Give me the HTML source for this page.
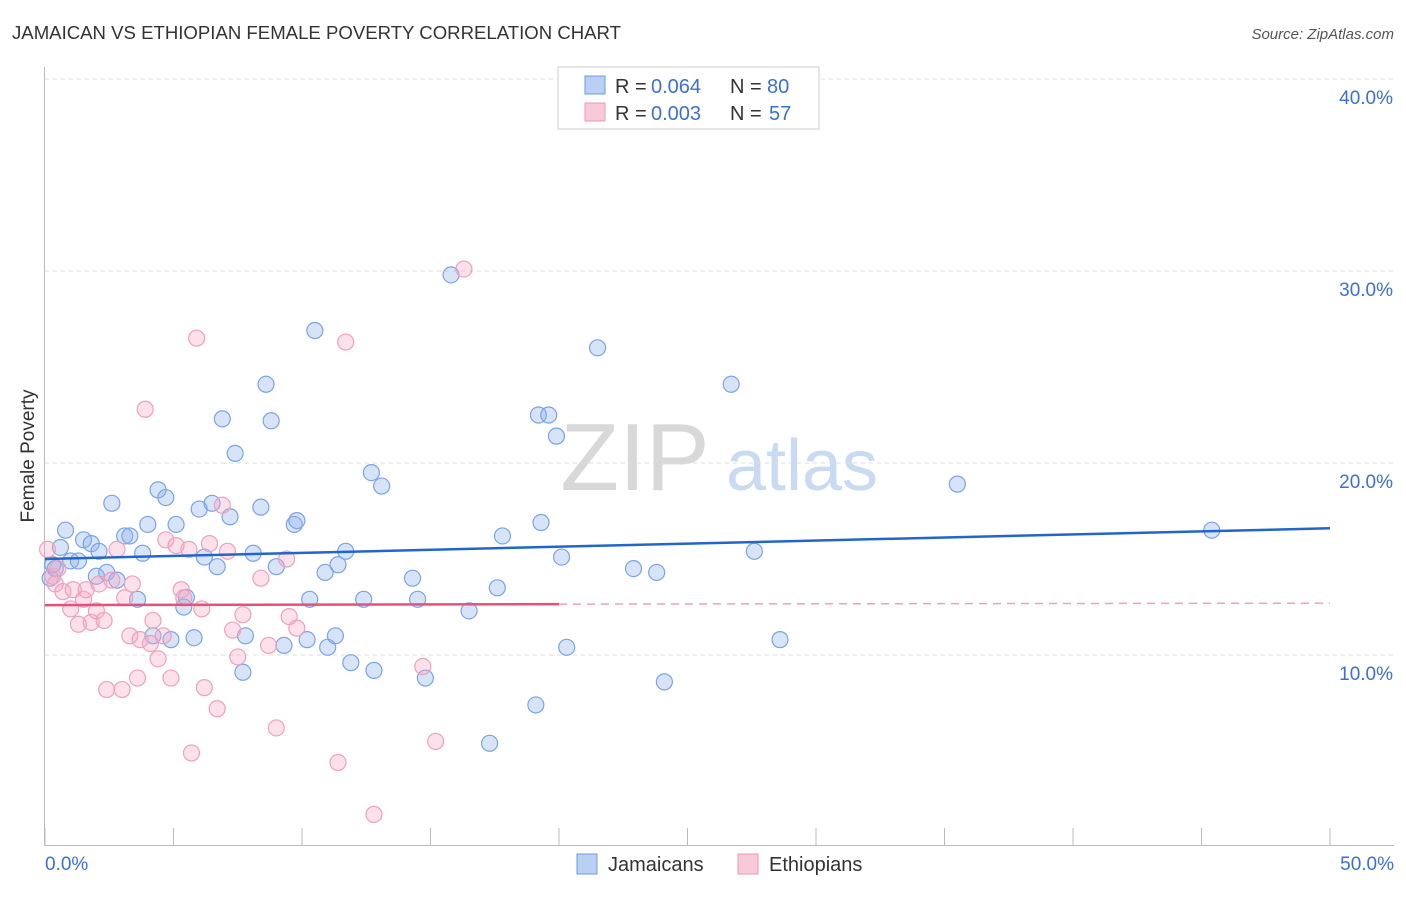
<!DOCTYPE html>
<html><head><meta charset="utf-8"><style>
body{margin:0;background:#fff;font-family:"Liberation Sans",sans-serif;}
svg text{font-family:"Liberation Sans",sans-serif;}
</style></head><body>
<svg id="chart" width="1406" height="892">
<text x="12" y="39" font-size="18" fill="#333" textLength="609" lengthAdjust="spacingAndGlyphs">JAMAICAN VS ETHIOPIAN FEMALE POVERTY CORRELATION CHART</text>
<text x="1394" y="39" font-size="15" fill="#555" font-style="italic" text-anchor="end">Source: ZipAtlas.com</text>
<g>
<text x="635" y="490" font-size="96" fill="#d8d8d8" font-family="Liberation Serif" text-anchor="middle">ZIP</text>
<text x="802" y="490" font-size="72" fill="#c9daf3" text-anchor="middle">atlas</text>
</g>
<g id="grid"></g>
<g id="axes"></g>
<g id="marks"></g>
<text x="34" y="456" font-size="19" fill="#333" transform="rotate(-90 34 456)" text-anchor="middle">Female Poverty</text>
<g>
<rect x="558" y="67" width="261" height="62" fill="#fff" stroke="#ccc"/>
<rect x="585" y="76" width="20" height="18" fill="#b9d0f3" stroke="#6d9ae0"/>
<rect x="585" y="103" width="20" height="18" fill="#f8c9d8" stroke="#ec97b4"/>
<g font-size="20" fill="#333">
<text x="615" y="93">R =</text><text x="651" y="93" fill="#3b6fd4">0.064</text><text x="730" y="93">N =</text><text x="767" y="93" fill="#3b6fd4">80</text>
<text x="615" y="120">R =</text><text x="651" y="120" fill="#3b6fd4">0.003</text><text x="730" y="120">N =</text><text x="769" y="120" fill="#3b6fd4">57</text>
</g>
</g>
<g>
<rect x="577" y="854" width="20" height="20" fill="#b9d0f3" stroke="#6d9ae0"/>
<text x="608" y="871" font-size="20" fill="#333">Jamaicans</text>
<rect x="738" y="854" width="20" height="20" fill="#f8c9d8" stroke="#ec97b4"/>
<text x="769" y="871" font-size="20" fill="#333">Ethiopians</text>
</g>
</svg>
<script>
const yTicks=[10,20,30,40];
const yTickLabels=["10.0%","20.0%","30.0%","40.0%"];
const xTickValues=[0,5,10,15,20,25,30,35,40,45,50];
const jamX=[0.2,0.4,0.3,0.6,0.8,1.0,1.3,1.5,1.8,2.1,2.0,2.4,2.6,2.8,3.1,3.3,3.6,3.8,4.0,4.2,4.4,4.7,4.9,5.1,5.4,5.5,5.8,6.0,6.2,6.5,6.7,6.9,7.2,7.4,7.7,7.8,8.1,8.4,8.6,8.8,9.0,9.3,9.7,9.8,10.2,10.3,10.5,10.9,11.0,11.3,11.4,11.7,11.9,12.4,12.7,12.8,13.1,14.3,14.5,14.8,15.8,16.5,17.3,17.6,17.8,19.1,19.2,19.6,19.3,19.9,20.1,20.3,21.5,22.9,23.8,24.1,26.7,27.6,28.6,35.5,45.4];
const jamY=[14.0,14.5,14.7,15.6,16.5,14.9,14.9,16.0,15.8,15.4,14.1,14.3,17.9,13.9,16.2,16.2,12.9,15.3,16.8,11.0,18.6,18.2,10.8,16.8,12.5,13.0,10.9,17.6,15.1,17.9,14.6,22.3,17.2,20.5,9.1,11.0,15.3,17.7,24.1,22.2,14.6,10.5,16.8,17.0,10.8,12.9,26.9,14.3,10.4,11.0,14.7,15.4,9.6,12.9,19.5,9.2,18.8,14.0,12.9,8.8,29.8,12.3,5.4,13.5,16.2,7.4,22.5,22.5,16.9,21.4,15.1,10.4,26.0,14.5,14.3,8.6,24.1,15.4,10.8,18.9,16.5];
const ethX=[0.1,0.3,0.4,0.5,0.7,1.0,1.1,1.3,1.5,1.6,1.8,2.0,2.1,2.3,2.4,2.6,2.8,3.0,3.1,3.3,3.4,3.6,3.7,3.9,4.1,4.2,4.4,4.6,4.7,4.9,5.1,5.3,5.4,5.6,5.7,5.9,6.1,6.2,6.4,6.7,6.9,7.1,7.3,7.5,7.7,8.4,8.7,9.0,9.4,9.5,9.8,11.4,11.7,12.8,14.7,15.2,16.3];
const ethY=[15.5,14.1,13.7,14.5,13.3,12.4,13.4,11.6,12.9,13.4,11.7,12.3,13.7,11.8,8.2,13.9,15.5,8.2,12.98,11.0,13.7,8.8,10.8,22.8,10.6,11.8,9.8,11.0,16.0,8.8,15.7,13.4,12.98,15.5,4.9,26.5,12.4,8.3,15.8,7.2,17.8,15.4,11.3,9.9,12.1,14.0,10.5,6.2,15.0,12.0,11.4,4.4,26.3,1.7,9.4,5.5,30.1];
const jamTrend=[15.0,16.6];
const ethTrend=[12.6,12.65,12.7];
const X=v=>45+v*25.7, Y=v=>847-v*19.2;
const NS="http://www.w3.org/2000/svg";
function mk(tag,attrs,parent){const e=document.createElementNS(NS,tag);for(const k in attrs)e.setAttribute(k,attrs[k]);parent.appendChild(e);return e;}
const grid=document.getElementById('grid'),axes=document.getElementById('axes'),marks=document.getElementById('marks');
yTicks.forEach((t,i)=>{
 const l=mk('line',{x1:45,x2:1394,y1:Y(t),y2:Y(t),stroke:'#ddd','stroke-dasharray':'4,4'},grid);
 
 
 const tx=mk('text',{x:1393,y:Y(t)+25,'font-size':19,fill:'#3b6fd4','text-anchor':'end'},axes);
 tx.textContent=yTickLabels[i];
 
 
});
mk('line',{x1:44.5,x2:44.5,y1:67,y2:845,stroke:'#bbb'},axes);
mk('line',{x1:44,x2:1394,y1:845.5,y2:845.5,stroke:'#bbb'},axes);
xTickValues.forEach(v=>{const t=mk('line',{x1:X(v),x2:X(v),y1:828,y2:845,stroke:'#bbb'},axes);
 
 });
let a=mk('text',{x:45,y:870,'font-size':19,fill:'#3b6fd4'},axes);a.textContent="0.0%";


a=mk('text',{x:1394,y:870,'font-size':19,fill:'#3b6fd4','text-anchor':'end'},axes);a.textContent="50.0%";


jamX.forEach((x,i)=>{const c=mk('circle',{cx:X(x),cy:Y(jamY[i]),r:8,fill:'rgba(140,178,236,0.35)',stroke:'#7aa3e6','stroke-width':1.2},marks);
 
 });
ethX.forEach((x,i)=>{const c=mk('circle',{cx:X(x),cy:Y(ethY[i]),r:8,fill:'rgba(245,170,196,0.35)',stroke:'#eea0bc','stroke-width':1.2},marks);
 
 });
let tl=mk('line',{x1:X(0),y1:Y(jamTrend[0]),x2:X(50),y2:Y(jamTrend[1]),stroke:'#2266cc','stroke-width':2.5},marks);


tl=mk('line',{x1:X(0),y1:Y(ethTrend[0]),x2:X(20),y2:Y(ethTrend[1]),stroke:'#e8507c','stroke-width':2.5},marks);


tl=mk('line',{x1:X(20),y1:Y(ethTrend[1]),x2:X(50),y2:Y(ethTrend[2]),stroke:'#eea0bc','stroke-width':1.5,'stroke-dasharray':'8,6'},marks);


</script>
</body></html>
